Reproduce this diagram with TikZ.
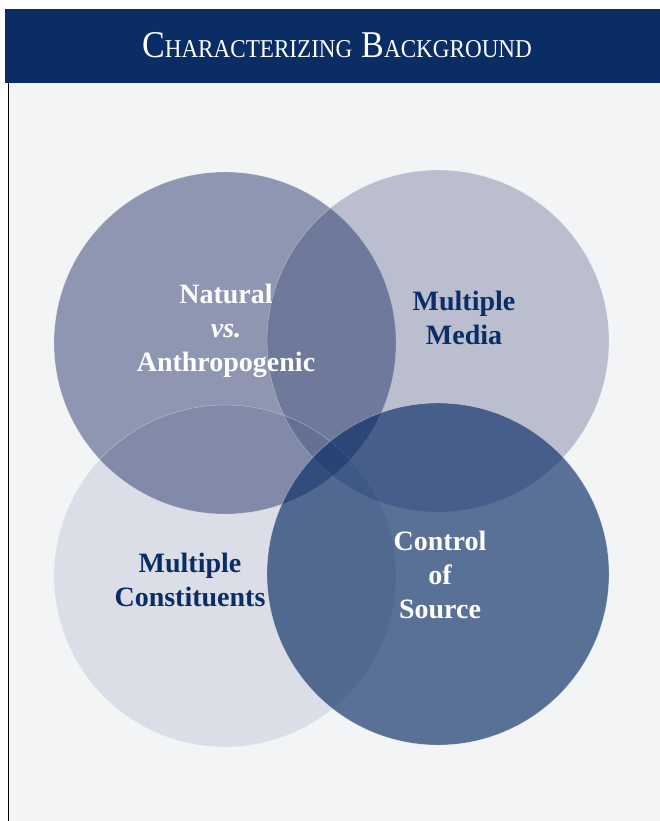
\documentclass[tikz,border=0pt]{standalone}
\usepackage{fontspec}
\setmainfont{Liberation Serif}
\newfontfamily\titlefont[FakeStretch=0.9]{Liberation Serif}
\usetikzlibrary{positioning}
\definecolor{navy}{HTML}{0A2D66}
\definecolor{slate}{HTML}{172760}
\definecolor{paper}{HTML}{F3F4F6}
\newcommand{\capsword}[2]{{\fontsize{37.8}{38}\selectfont #1}{\fontsize{25.7}{26}\selectfont #2}}

\begin{document}
\begin{tikzpicture}[x=1pt, y=-1pt
        , venn/.style={circle, minimum size=342pt, inner sep=0pt, fill=slate,
                       draw=white, draw opacity=0.45, line width=0.4pt}
        , darkLabel/.style={text=navy, align=center, font=\bfseries\fontsize{28}{34}\selectfont}
        , lightLabel/.style={darkLabel, text=white}
        ]
        \useasboundingbox (0,0) rectangle (660,821);
        \fill[paper] (9,83) rectangle (660,821);
        \fill[navy] (5,9) rectangle (660,83);
        \draw[line width=1pt] (8,83) -- (8,821);
        \node[anchor=base, text=white] (title) at (337,58)
            {\titlefont\capsword{C}{HARACTERIZING}\hspace{9pt}\capsword{B}{ACKGROUND}};

        \node (natural) [venn, fill opacity=0.455] at (225,343) {};
        \node (media)   [venn, fill opacity=0.26] at (438,341) {};
        \node (constit) [venn, fill opacity=0.105] at (225,576) {};
        \node (control) [venn, fill=navy, fill opacity=0.66] at (438,574) {};

        \node (naturalTxt) [lightLabel] at (226,331) {Natural\\\textit{vs.}\\Anthropogenic};
        \node (mediaTxt)   [darkLabel]  at (464,318) {Multiple\\Media};
        \node (constitTxt) [darkLabel]  at (190,580) {Multiple\\Constituents};
        \node (controlTxt) [lightLabel] at (440,575) {Control\\of\\Source};

    \end{tikzpicture}
\end{document}
